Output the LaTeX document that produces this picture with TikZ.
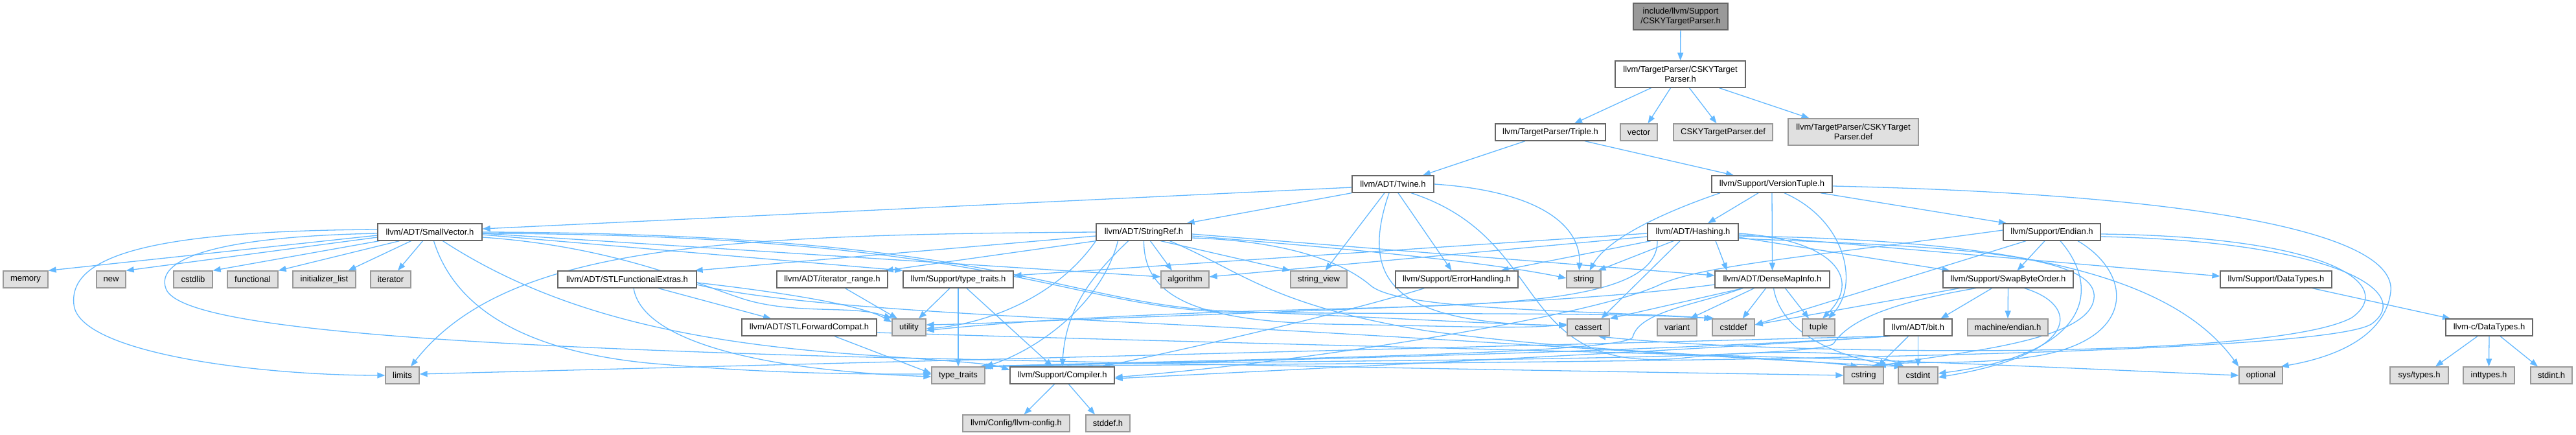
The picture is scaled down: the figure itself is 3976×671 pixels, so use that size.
\documentclass[tikz,border=0pt]{standalone}
\usepackage{fontspec}
\setmainfont{Liberation Sans}
\usetikzlibrary{arrows.meta}
\definecolor{ec}{HTML}{63B8FF}
\definecolor{gf}{HTML}{E0E0E0}
\definecolor{gb}{HTML}{999999}
\definecolor{wb}{HTML}{666666}
\pgfdeclarelayer{bg}
\pgfsetlayers{bg,main}
\begin{document}
\begin{tikzpicture}[x=1pt,y=-1pt,
  bx/.style={rectangle, inner sep=0pt, minimum height=26pt, line width=1.3pt, font=\fontsize{13}{14.6}\selectfont, align=center},
  gn/.style={bx, fill=gf, draw=gb},
  wn/.style={bx, fill=white, draw=wb},
  tn/.style={bx, fill=gb, draw=wb},
  e/.style={draw=ec, line width=1.3pt, -{Triangle[length=12pt,width=9pt]}},
]
\useasboundingbox (0,0) rectangle (3976,671);
% Row A/B
\node[tn, minimum width=146, minimum height=41] (top) at (2594,25.5) {include/llvm/Support\\/CSKYTargetParser.h};
\node[wn, minimum width=201, minimum height=41] (cskyh) at (2593.5,114.5) {llvm/TargetParser/CSKYTarget\\Parser.h};
% Row C
\node[wn, minimum width=170] (triple) at (2393,204) {llvm/TargetParser/Triple.h};
\node[gn, minimum width=57] (vector) at (2529.5,204) {vector};
\node[gn, minimum width=153] (cskydef) at (2659.5,204) {CSKYTargetParser.def};
\node[gn, minimum width=201, minimum height=41] (cskydef2) at (2860.5,203.5) {llvm/TargetParser/CSKYTarget\\Parser.def};
% Row D
\node[wn, minimum width=126] (twine) at (2150,284) {llvm/ADT/Twine.h};
\node[wn, minimum width=186] (vtuple) at (2735,284) {llvm/Support/VersionTuple.h};
% Row E
\node[wn, minimum width=161] (smallvec) at (663.5,358) {llvm/ADT/SmallVector.h};
\node[wn, minimum width=147] (stringref) at (1765.5,358) {llvm/ADT/StringRef.h};
\node[wn, minimum width=140] (hashing) at (2613,358) {llvm/ADT/Hashing.h};
\node[wn, minimum width=150] (endian) at (3167,358) {llvm/Support/Endian.h};
% Row F
\node[gn, minimum width=69] (memory) at (39.5,431) {memory};
\node[gn, minimum width=45] (new) at (171.5,431) {new};
\node[gn, minimum width=60] (cstdlib) at (298,431) {cstdlib};
\node[gn, minimum width=78] (functional) at (390,431) {functional};
\node[gn, minimum width=97] (initlist) at (500.5,431) {initializer\_list};
\node[gn, minimum width=62] (iterator) at (603,431) {iterator};
\node[wn, minimum width=214] (stlfe) at (968,431) {llvm/ADT/STLFunctionalExtras.h};
\node[wn, minimum width=171] (itrange) at (1284.5,431) {llvm/ADT/iterator\_range.h};
\node[wn, minimum width=170] (typetraitsh) at (1479,431) {llvm/Support/type\_traits.h};
\node[gn, minimum width=74] (algorithm) at (1829,431) {algorithm};
\node[gn, minimum width=87] (stringview) at (2035.5,431) {string\_view};
\node[wn, minimum width=189] (errh) at (2248.5,431) {llvm/Support/ErrorHandling.h};
\node[gn, minimum width=53] (string) at (2444.5,431) {string};
\node[wn, minimum width=177] (densemap) at (2735.5,431) {llvm/ADT/DenseMapInfo.h};
\node[wn, minimum width=201] (swap) at (3099.5,431) {llvm/Support/SwapByteOrder.h};
\node[wn, minimum width=172] (datatypes) at (3513,431) {llvm/Support/DataTypes.h};
% Row G
\node[wn, minimum width=208] (stlfc) at (1249,505) {llvm/ADT/STLForwardCompat.h};
\node[gn, minimum width=52] (utility) at (1403,505) {utility};
\node[gn, minimum width=65] (cassert) at (2451.5,505) {cassert};
\node[gn, minimum width=61] (variant) at (2588.5,505) {variant};
\node[gn, minimum width=65] (cstddef) at (2675.5,505) {cstddef};
\node[gn, minimum width=50] (tuple) at (2807,505) {tuple};
\node[wn, minimum width=105] (bit) at (2960.5,505) {llvm/ADT/bit.h};
\node[gn, minimum width=124] (mendian) at (3099,505) {machine/endian.h};
\node[wn, minimum width=134] (cdatatypes) at (3842,505) {llvm-c/DataTypes.h};
% Row H
\node[gn, minimum width=52] (limits) at (621,579) {limits};
\node[gn, minimum width=82] (typetraits) at (1479,579) {type\_traits};
\node[wn, minimum width=161] (compiler) at (1639.5,579) {llvm/Support/Compiler.h};
\node[gn, minimum width=61] (cstring) at (2876.5,579) {cstring};
\node[gn, minimum width=61] (cstdint) at (2960.5,579) {cstdint};
\node[gn, minimum width=67] (optional) at (3489.5,579) {optional};
\node[gn, minimum width=90] (systypes) at (3734,579) {sys/types.h};
\node[gn, minimum width=79] (inttypes) at (3841.5,579) {inttypes.h};
\node[gn, minimum width=64] (stdint) at (3938,579) {stdint.h};
% Row I
\node[gn, minimum width=165] (llvmconfig) at (1568.5,653) {llvm/Config/llvm-config.h};
\node[gn, minimum width=68] (stddef) at (1710,653) {stddef.h};

\begin{pgfonlayer}{bg}
% top levels
\draw[e] (top) -- (cskyh);
\draw[e] ([xshift=-45]cskyh.south) -- ([xshift=37]triple.north);
\draw[e] ([xshift=-15]cskyh.south) -- ([xshift=14]vector.north);
\draw[e] ([xshift=14]cskyh.south) -- ([xshift=-10]cskydef.north);
\draw[e] ([xshift=60]cskyh.south) -- ([xshift=-68]cskydef2.north);
\draw[e] ([xshift=-39]triple.south) -- ([xshift=46]twine.north);
\draw[e] ([xshift=53]triple.south) -- ([xshift=-59]vtuple.north);
% Twine
\draw[e] ([yshift=-5]twine.west) -- ([yshift=5]smallvec.east);
\draw[e] (twine.south west) -- ([xshift=-8]stringref.north east);
\draw[e] ([xshift=-13]twine.south) -- ([xshift=10]stringview.north);
\draw[e] ([xshift=-6]twine.south) .. controls (2095,440) and (2160,500) .. ([yshift=3]cassert.west);
\draw[e] ([xshift=8]twine.south) -- ([xshift=-8]errh.north);
\draw[e] ([xshift=28]twine.south) .. controls (2400,370) and (2330,580) .. (2600,552) .. controls (2750,536) and (2900,545) .. ([xshift=-22]cstdint.north);
\draw[e] (twine.east) .. controls (2380,295) and (2440,350) .. ([xshift=-7]string.north);
% VersionTuple
\draw[e] ([xshift=-80]vtuple.south) .. controls (2560,330) and (2480,370) .. ([xshift=9]string.north);
\draw[e] ([xshift=-21]vtuple.south) -- ([xshift=23]hashing.north);
\draw[e] (vtuple.south) -- (densemap.north);
\draw[e] ([xshift=19]vtuple.south) .. controls (2850,340) and (2870,440) .. ([xshift=15]tuple.north);
\draw[e] ([xshift=75]vtuple.south) -- ([xshift=-70]endian.north);
\draw[e] ([yshift=-3]vtuple.east) .. controls (3400,300) and (3700,360) .. (3690,450) .. controls (3680,530) and (3580,555) .. ([xshift=-3]optional.north east);
% SmallVector
\draw[e] ([yshift=-5]smallvec.west) -- (memory.north east);
\draw[e] ([yshift=-8]smallvec.west) -- (new.north east);
\draw[e] ([xshift=-78]smallvec.south) -- (cstdlib.north east);
\draw[e] ([xshift=-47]smallvec.south) -- (functional.north east);
\draw[e] ([xshift=-29]smallvec.south) -- ([xshift=37]initlist.north);
\draw[e] ([xshift=-11]smallvec.south) -- ([xshift=11]iterator.north);
\draw[e] ([yshift=4]smallvec.west) .. controls (250,356) and (105,390) .. (114,470) .. controls (122,545) and (400,579) .. (limits.west);
\draw[e] ([yshift=-2]smallvec.west) .. controls (330,365) and (240,400) .. (256,445) .. controls (275,500) and (600,530) .. (1300,550) .. controls (2000,566) and (2600,575) .. (cstring.west);
\draw[e] ([yshift=-2]smallvec.east) -- ([yshift=4]algorithm.west);
\draw[e] ([yshift=-4]smallvec.east) -- (typetraitsh.north west);
\draw[e] ([yshift=-8]smallvec.east) .. controls (950,380) and (1080,440) .. (1150,462) .. controls (1230,486) and (1320,470) .. (utility.north west);
\draw[e] (smallvec.east) .. controls (1550,360) and (1640,470) .. (1900,480) .. controls (2150,490) and (2300,500) .. ([yshift=3]cassert.west);
\draw[e] ([yshift=-2]smallvec.east) .. controls (1560,362) and (1650,480) .. (1920,482) .. controls (2250,485) and (2500,482) .. (cstddef.north west);
\draw[e] ([xshift=6]smallvec.south) .. controls (700,470) and (800,540) .. (1000,560) .. controls (1200,578) and (1350,577) .. ([yshift=2]typetraits.west);
\draw[e] ([xshift=20]smallvec.south) .. controls (850,480) and (1050,525) .. (1300,545) .. controls (1450,556) and (1530,560) .. ([yshift=8]compiler.west);
% StringRef
\draw[e] ([yshift=-6]stringref.west) -- ([xshift=-3]stlfe.north east);
\draw[e] (stringref.south west) -- ([xshift=-4]itrange.north east);
\draw[e] (stringref.west) .. controls (1100,362) and (780,380) .. ([xshift=13]limits.north);
\draw[e] ([xshift=-24]stringref.south) .. controls (1680,430) and (1645,480) .. (compiler.north);
\draw[e] ([xshift=10]stringref.south) -- ([xshift=-20]algorithm.north);
\draw[e] ([xshift=26]stringref.south) -- (stringview.north west);
\draw[e] ([yshift=-3]stringref.east) -- ([yshift=6]densemap.west);
\draw[e] ([yshift=-6]stringref.east) .. controls (2100,385) and (2300,405) .. ([yshift=2]string.west);
\draw[e] (stringref.south) .. controls (1765,460) and (1850,495) .. (2050,500) .. controls (2250,503) and (2350,508) .. ([yshift=5]cassert.west);
\draw[e] ([yshift=-9]stringref.east) .. controls (2000,372) and (2080,410) .. (2115,440) .. controls (2160,480) and (2450,478) .. ([xshift=4]cstddef.north west);
\draw[e] ([xshift=40]stringref.south) .. controls (1920,420) and (1960,470) .. (2200,510) .. controls (2450,545) and (2750,550) .. ([xshift=-8]cstring.north);
\draw[e] ([xshift=-40]stringref.south) .. controls (1700,470) and (1600,540) .. (typetraits.north east);
\draw[e] (stringref.south west) .. controls (1630,460) and (1520,500) .. ([yshift=-2]utility.east);
% STLFunctionalExtras / STLForwardCompat / iterator_range / type_traits.h
\draw[e] ([xshift=48]stlfe.south) -- ([xshift=-59]stlfc.north);
\draw[e] ([yshift=-8]stlfe.east) .. controls (1200,470) and (1500,485) .. (1800,500) .. controls (2200,520) and (2700,555) .. ([xshift=-25]cstdint.north);
\draw[e] ([xshift=10]stlfe.south) .. controls (990,520) and (1150,570) .. ([yshift=-2]typetraits.west);
\draw[e] ([yshift=-5]stlfe.east) .. controls (1200,450) and (1330,470) .. ([yshift=8]utility.west);
\draw[e] ([yshift=-8]stlfc.east) .. controls (1900,530) and (2600,545) .. (2900,556) .. controls (3150,565) and (3350,575) .. (optional.west);
\draw[e] ([xshift=39]stlfc.south) -- ([yshift=3]typetraits.west);
\draw[e] ([xshift=20]itrange.south) -- ([xshift=-18]utility.north);
\draw[e] ([xshift=-13]typetraitsh.south) -- ([xshift=15]utility.north);
\draw[e] (typetraitsh.south) -- (typetraits.north);
\draw[e] ([xshift=13]typetraitsh.south) -- ([xshift=-15]compiler.north);
% Compiler / ErrorHandling
\draw[e] ([xshift=-12]compiler.south) -- ([xshift=12]llvmconfig.north);
\draw[e] ([xshift=10]compiler.south) -- ([xshift=-20]stddef.north);
\draw[e] ([xshift=-50]errh.south) .. controls (2050,490) and (1800,545) .. ([xshift=62]compiler.north);
% Hashing
\draw[e] ([xshift=35]hashing.south) -- ([xshift=-70]densemap.north);
\draw[e] ([yshift=-4]hashing.east) -- ([yshift=5]datatypes.west);
\draw[e] ([yshift=-8]hashing.east) -- ([xshift=-90]swap.north);
\draw[e] ([xshift=-65]hashing.south) -- ([xshift=68]errh.north);
\draw[e] ([yshift=-2]hashing.west) -- ([yshift=6]typetraitsh.east);
\draw[e] ([yshift=-7]hashing.west) -- ([yshift=4]algorithm.east);
\draw[e] ([xshift=-30]hashing.south) -- ([xshift=22]string.north);
\draw[e] ([xshift=-20]hashing.south) -- ([xshift=20]cassert.north);
\draw[e] ([yshift=-10]hashing.east) .. controls (3000,380) and (3240,390) .. (3232,460) .. controls (3225,530) and (3000,545) .. ([xshift=22]cstring.north);
\draw[e] ([yshift=-6]hashing.east) .. controls (3100,370) and (3350,420) .. (optional.north west);
\draw[e] ([yshift=-2]hashing.east) .. controls (2830,370) and (2875,430) .. ([xshift=6]tuple.north);
\draw[e] ([xshift=-55]hashing.south) .. controls (2560,470) and (2300,470) .. (2000,478) .. controls (1700,486) and (1520,500) .. ([yshift=-5]utility.east);
% DenseMapInfo
\draw[e] ([xshift=-45]densemap.south) -- (cassert.north east);
\draw[e] ([xshift=-28]densemap.south) -- ([xshift=20]variant.north);
\draw[e] ([xshift=-10]densemap.south) -- ([xshift=14]cstddef.north);
\draw[e] ([xshift=20]densemap.south) -- ([xshift=-15]tuple.north);
\draw[e] ([xshift=2]densemap.south) .. controls (2750,520) and (2850,555) .. ([xshift=-22]cstdint.north);
\draw[e] ([xshift=-46]densemap.south) .. controls (2620,470) and (2530,480) .. (2520,520) .. controls (2510,548) and (1800,556) .. (typetraits.north east);
\draw[e] ([yshift=-8]densemap.west) .. controls (2450,465) and (2200,472) .. (1900,484) .. controls (1650,493) and (1500,500) .. ([yshift=4]utility.east);
% Endian
\draw[e] ([yshift=3]endian.west) .. controls (2800,395) and (2620,410) .. (2560,440) .. controls (2450,490) and (2000,560) .. ([yshift=-3]compiler.east);
\draw[e] ([xshift=-40]endian.south) -- ([yshift=4]cstddef.east);
\draw[e] ([xshift=-11]endian.south) -- ([xshift=14]swap.north);
\draw[e] ([xshift=13]endian.south) .. controls (3240,440) and (3235,545) .. ([yshift=3]cstdint.east);
\draw[e] ([xshift=40]endian.south) .. controls (3290,420) and (3300,520) .. (3150,548) .. controls (3050,565) and (2950,555) .. ([xshift=12]cstring.north);
\draw[e] ([yshift=-3]endian.east) .. controls (3600,365) and (3700,440) .. (3630,490) .. controls (3500,560) and (2700,545) .. ([xshift=15]cassert.south);
\draw[e] ([yshift=-7]endian.east) .. controls (3600,372) and (3730,450) .. (3660,500) .. controls (3560,560) and (2000,560) .. ([xshift=-3]typetraits.north east);
% SwapByteOrder
\draw[e] ([xshift=-25]swap.south) -- ([xshift=35]bit.north);
\draw[e] (swap.south) -- (mendian.north);
\draw[e] ([xshift=-75]swap.south) -- ([yshift=4]cstddef.east);
\draw[e] ([xshift=25]swap.south) .. controls (3210,470) and (3215,545) .. ([yshift=-3]cstdint.east);
\draw[e] ([xshift=-50]swap.south) .. controls (2900,470) and (2850,500) .. (2830,530) .. controls (2800,560) and (1800,555) .. ([xshift=-6]typetraits.north east);
% bit
\draw[e] ([xshift=-15]bit.south) -- ([xshift=22]cstring.north);
\draw[e] (bit.south) -- (cstdint.north);
\draw[e] ([xshift=5]bit.south west) .. controls (2700,535) and (2200,560) .. ([yshift=-5]compiler.east);
\draw[e] (bit.south west) -- ([yshift=2]limits.east);
\draw[e] ([xshift=10]bit.south west) .. controls (2600,540) and (2000,556) .. ([xshift=-9]typetraits.north east);
% DataTypes
\draw[e] ([xshift=56]datatypes.south) -- ([xshift=-60]cdatatypes.north);
\draw[e] ([xshift=-18]cdatatypes.south) -- ([xshift=25]systypes.north);
\draw[e] (cdatatypes.south) -- (inttypes.north);
\draw[e] ([xshift=17]cdatatypes.south) -- ([xshift=-21]stdint.north);
\end{pgfonlayer}
\end{tikzpicture}
\end{document}
